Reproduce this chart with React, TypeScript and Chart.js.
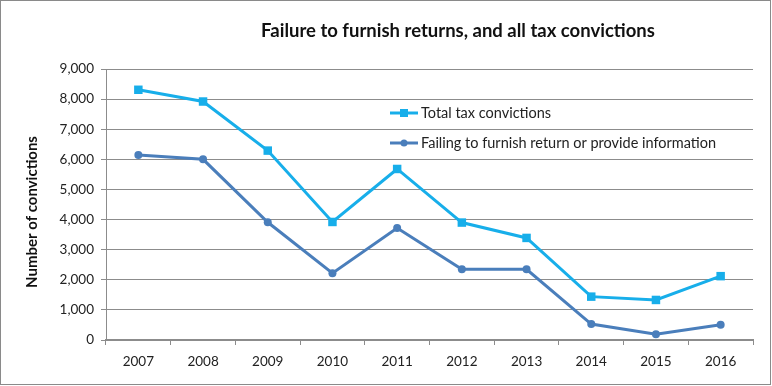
import React, { useEffect, useRef } from "react";
import { Chart, registerables } from "chart.js";

Chart.register(...registerables);

const years = ["2007", "2008", "2009", "2010", "2011", "2012", "2013", "2014", "2015", "2016"];
const totalConvictions = [8310, 7920, 6290, 3920, 5680, 3900, 3390, 1440, 1330, 2120];
const failingToFurnish = [6140, 6000, 3910, 2220, 3720, 2350, 2350, 530, 190, 510];
const chartTitle = "Failure to furnish returns, and all tax convictions";
const yAxisTitle = "Number of convictions";
const seriesNames = ["Total tax convictions", "Failing to furnish return or provide information"];

const FONT = "Lato, 'Open Sans', sans-serif";
const TOTAL_COLOR = "#17aeea";
const FAIL_COLOR = "#4a7ebb";
const GRID = "#8c8c8c";

const decorPlugin = {
  id: "decor",
  beforeDraw(chart: any) {
    const ctx = chart.ctx;
    ctx.save();
    ctx.fillStyle = "#ffffff";
    ctx.fillRect(0, 0, chart.width, chart.height);
    ctx.strokeStyle = "#8a8a8a";
    ctx.lineWidth = 1;
    ctx.strokeRect(0.5, 0.5, 770, 384);
    ctx.restore();
  },
  afterDraw(chart: any) {
    const ctx = chart.ctx;
    const area = chart.chartArea;
    ctx.save();
    // title
    ctx.fillStyle = "#111111";
    ctx.font = `bold 18.5px ${FONT}`;
    ctx.textAlign = "center";
    ctx.textBaseline = "middle";
    ctx.fillText(chartTitle, 458, 31);
    // y axis title
    ctx.save();
    ctx.translate(32, 212);
    ctx.rotate(-Math.PI / 2);
    ctx.font = `bold 15px ${FONT}`;
    ctx.fillText(yAxisTitle, 0, 0);
    ctx.restore();
    // legend
    ctx.font = `14.5px ${FONT}`;
    ctx.textAlign = "left";
    const lx = area.left + 284;
    const rows = [area.top + 44, area.top + 74];
    chart.data.datasets.forEach((ds: any, i: number) => {
      const y = rows[i];
      ctx.strokeStyle = ds.borderColor;
      ctx.lineWidth = 3;
      ctx.beginPath();
      ctx.moveTo(lx, y);
      ctx.lineTo(lx + 28, y);
      ctx.stroke();
      ctx.fillStyle = ds.borderColor;
      if (ds.pointStyle === "rect") {
        ctx.fillRect(lx + 14 - 4, y - 4, 8, 8);
      } else {
        ctx.beginPath();
        ctx.arc(lx + 14, y, 3.5, 0, Math.PI * 2);
        ctx.fill();
      }
      ctx.fillStyle = "#222222";
      ctx.fillText(ds.label, lx + 31, y);
    });
    ctx.restore();
  },
};

export default function App() {
  const ref = useRef<HTMLCanvasElement | null>(null);
  useEffect(() => {
    if (!ref.current) return;
    const chart = new Chart(ref.current, {
      type: "line",
      data: {
        labels: years,
        datasets: [
          {
            label: seriesNames[0],
            data: totalConvictions,
            borderColor: TOTAL_COLOR,
            backgroundColor: TOTAL_COLOR,
            borderWidth: 3,
            pointStyle: "rect",
            pointRadius: 6,
            pointBorderWidth: 0,
            tension: 0,
          },
          {
            label: seriesNames[1],
            data: failingToFurnish,
            borderColor: FAIL_COLOR,
            backgroundColor: FAIL_COLOR,
            borderWidth: 3,
            pointStyle: "circle",
            pointRadius: 4,
            pointBorderWidth: 0,
            tension: 0,
          },
        ],
      },
      options: {
        animation: false,
        responsive: false,
        maintainAspectRatio: false,
        layout: { padding: { top: 69, left: 0, right: 19, bottom: 0 } },
        plugins: {
          legend: { display: false },
          title: { display: false },
          tooltip: { enabled: false },
        },
        scales: {
          x: {
            offset: true,
            grid: {
              offset: true,
              drawOnChartArea: false,
              drawTicks: true,
              tickLength: 5,
              color: GRID,
            },
            border: { display: true, color: GRID, width: 2 },
            ticks: {
              color: "#222222",
              font: { family: FONT, size: 13.5 },
              padding: 9,
              maxRotation: 0,
            },
            afterFit(scale: any) {
              scale.height = 46;
            },
          },
          y: {
            min: 0,
            max: 9000,
            ticks: {
              stepSize: 1000,
              color: "#222222",
              font: { family: FONT, size: 13.5 },
              padding: 7,
              callback: (v: any) => Number(v).toLocaleString("en-US"),
            },
            grid: {
              color: GRID,
              lineWidth: 1,
              drawTicks: true,
              tickLength: 5,
            },
            border: { display: true, color: GRID, width: 1 },
            afterFit(scale: any) {
              scale.width = 106;
            },
          },
        },
      },
      plugins: [decorPlugin],
    });
    return () => chart.destroy();
  }, []);
  return (
    <div style={{ position: "fixed", left: 0, top: 0, width: 772, height: 386, background: "#fff" }}>
      <canvas ref={ref} width={772} height={386} style={{ width: 772, height: 386, display: "block" }} />
    </div>
  );
}
